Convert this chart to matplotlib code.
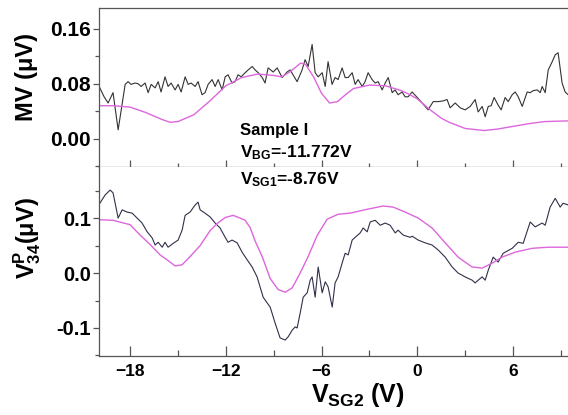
import matplotlib
matplotlib.use("Agg")
import matplotlib.pyplot as plt
from matplotlib.ticker import MultipleLocator

plt.rcParams['font.family'] = ['Liberation Sans', 'DejaVu Sans']
plt.rcParams['mathtext.fontset'] = 'custom'
plt.rcParams['mathtext.rm'] = 'Liberation Sans:bold'
plt.rcParams['mathtext.bf'] = 'Liberation Sans:bold'
plt.rcParams['mathtext.it'] = 'Liberation Sans:bold'

# ---------------- data ----------------
# Top panel: MV, measured (black)
mv_x = [-19.94, -19.63, -19.38, -19.07, -18.75, -18.31, -18.13, -17.94, -17.69, -17.50,
        -17.31, -17.06, -16.87, -16.68, -16.43, -16.24, -16.06, -15.81, -15.62, -15.43,
        -15.18, -14.99, -14.80, -14.55, -14.36, -14.18, -13.92, -13.74, -13.49, -13.30,
        -13.11, -12.86, -12.67, -12.48, -12.23, -12.04, -11.86, -11.61, -11.42, -11.23,
        -11.04, -10.79, -10.60, -10.35, -10.16, -9.97, -9.72, -9.54, -9.35, -9.03,
        -8.78, -8.47, -8.16, -7.97, -7.53, -7.22, -7.03, -6.84, -6.59, -6.40,
        -6.21, -5.96, -5.77, -5.59, -5.34, -5.15, -4.96, -4.71, -4.52, -4.33,
        -4.08, -3.89, -3.71, -3.45, -3.27, -3.08, -2.83, -2.64, -2.45, -2.20,
        -2.01, -1.82, -1.57, -1.39, -1.20, -0.95, -0.76, -0.57, -0.32, 0.00,
        0.31, 0.68, 1.00, 1.31, 1.62, 1.87, 2.06, 2.38, 2.69, 3.00,
        3.32, 3.63, 3.82, 4.07, 4.26, 4.45, 4.63, 4.82, 5.07, 5.26,
        5.51, 5.70, 5.95, 6.14, 6.33, 6.58, 6.89, 7.08, 7.27, 7.52,
        7.71, 7.83, 8.02, 8.21, 8.46, 8.65, 8.83, 9.08, 9.27, 9.46]
mv_y = [0.076, 0.061, 0.052, 0.067, 0.013, 0.079, 0.083, 0.079, 0.081, 0.080,
        0.076, 0.081, 0.067, 0.079, 0.074, 0.083, 0.068, 0.090, 0.076, 0.081,
        0.071, 0.079, 0.068, 0.090, 0.079, 0.081, 0.076, 0.083, 0.064, 0.067,
        0.079, 0.086, 0.076, 0.086, 0.071, 0.090, 0.093, 0.081, 0.083, 0.093,
        0.090, 0.096, 0.100, 0.105, 0.100, 0.096, 0.089, 0.081, 0.103, 0.097,
        0.103, 0.089, 0.097, 0.100, 0.083, 0.100, 0.115, 0.105, 0.137, 0.096,
        0.090, 0.096, 0.076, 0.112, 0.079, 0.089, 0.086, 0.103, 0.089, 0.089,
        0.096, 0.079, 0.086, 0.076, 0.083, 0.096, 0.086, 0.081, 0.083, 0.071,
        0.081, 0.089, 0.067, 0.071, 0.064, 0.068, 0.061, 0.061, 0.068, 0.060,
        0.052, 0.042, 0.054, 0.054, 0.055, 0.057, 0.045, 0.052, 0.045, 0.042,
        0.047, 0.057, 0.039, 0.047, 0.032, 0.047, 0.048, 0.060, 0.049, 0.042,
        0.060, 0.054, 0.064, 0.068, 0.061, 0.047, 0.068, 0.067, 0.070, 0.071,
        0.067, 0.076, 0.067, 0.100, 0.112, 0.122, 0.125, 0.081, 0.068, 0.064]

# Top panel: MV, calculated (magenta)
mvc_x = [-19.94, -19.0, -18.0, -17.0, -16.0, -15.5, -15.0, -14.0, -13.0, -12.0,
         -11.0, -10.0, -9.0, -8.5, -8.0, -7.3, -7.0, -6.5, -6.0, -5.5,
         -5.0, -4.5, -4.0, -3.0, -2.0, -1.0, -0.45, 0.0, 0.81, 1.5,
         2.0, 3.0, 4.2, 5.0, 6.0, 7.0, 8.0, 9.46]
mvc_y = [0.048, 0.048, 0.046, 0.038, 0.028, 0.024, 0.025, 0.035, 0.055, 0.077,
         0.089, 0.094, 0.092, 0.090, 0.097, 0.110, 0.108, 0.090, 0.066, 0.052,
         0.054, 0.064, 0.073, 0.078, 0.077, 0.070, 0.064, 0.058, 0.042, 0.030,
         0.024, 0.015, 0.012, 0.014, 0.018, 0.022, 0.025, 0.026]

# Bottom panel: V^P_34, measured (dark)
vp_x = [-19.94, -19.57, -19.25, -19.07, -18.75, -18.50, -18.19, -17.87, -17.56, -17.25,
        -16.93, -16.62, -16.43, -16.24, -15.99, -15.81, -15.62, -15.30, -14.99, -14.74,
        -14.55, -14.24, -13.92, -13.74, -13.61, -13.30, -12.98, -12.67, -12.36, -12.04,
        -11.86, -11.61, -11.29, -10.98, -10.66, -10.35, -10.04, -9.66, -9.22, -8.91,
        -8.60, -8.28, -8.09, -7.84, -7.65, -7.53, -7.34, -7.15, -6.90, -6.71,
        -6.59, -6.40, -6.21, -5.96, -5.77, -5.59, -5.33, -5.15, -4.96, -4.71,
        -4.52, -4.33, -4.08, -3.89, -3.58, -3.39, -3.14, -2.95, -2.64, -2.32,
        -2.01, -1.70, -1.38, -1.20, -0.88, -0.44, -0.32, 0.06, 0.49, 0.93,
        1.31, 1.75, 2.19, 2.56, 3.00, 3.44, 3.63, 3.82, 4.07, 4.26,
        4.45, 4.76, 5.07, 5.39, 5.95, 6.33, 6.64, 7.08, 7.39, 7.83,
        8.02, 8.33, 8.65, 8.96, 9.14, 9.46]
vp_y = [0.125, 0.142, 0.151, 0.146, 0.100, 0.115, 0.111, 0.109, 0.100, 0.091,
        0.075, 0.064, 0.051, 0.056, 0.047, 0.056, 0.047, 0.054, 0.060, 0.078,
        0.105, 0.111, 0.124, 0.129, 0.115, 0.109, 0.102, 0.091, 0.082, 0.065,
        0.056, 0.060, 0.055, 0.038, 0.024, 0.011, -0.007, -0.044, -0.062, -0.091,
        -0.118, -0.122, -0.116, -0.104, -0.098, -0.100, -0.073, -0.044, -0.036, -0.013,
        -0.007, -0.044, 0.011, -0.036, -0.016, -0.025, -0.062, -0.018, -0.007, 0.018,
        0.036, 0.033, 0.060, 0.065, 0.073, 0.082, 0.075, 0.093, 0.096, 0.087,
        0.091, 0.087, 0.073, 0.078, 0.069, 0.065, 0.067, 0.060, 0.055, 0.051,
        0.042, 0.029, 0.011, 0.000, -0.007, -0.013, -0.018, -0.013, -0.007, -0.013,
        0.005, 0.029, 0.020, 0.036, 0.045, 0.056, 0.054, 0.093, 0.084, 0.091,
        0.087, 0.120, 0.136, 0.120, 0.127, 0.124]

# Bottom panel: V^P_34, calculated (magenta)
vpc_x = [-19.88, -19.07, -18.00, -17.37, -16.75, -16.12, -15.68, -15.18, -14.74, -14.24,
         -13.61, -12.99, -12.55, -12.04, -11.54, -11.10, -10.79, -10.48, -10.16, -9.72,
         -9.22, -8.72, -8.28, -7.84, -7.34, -6.84, -6.28, -5.65, -4.96, -4.21,
         -3.14, -2.14, -1.51, -0.76, 0.06, 0.93, 1.75, 2.56, 3.44, 4.07,
         4.70, 5.32, 6.14, 7.20, 8.21, 9.46]
vpc_y = [0.097, 0.096, 0.088, 0.069, 0.052, 0.033, 0.024, 0.013, 0.015, 0.030,
         0.050, 0.077, 0.090, 0.101, 0.105, 0.100, 0.096, 0.083, 0.058, 0.030,
         -0.010, -0.030, -0.035, -0.027, 0.000, 0.030, 0.068, 0.098, 0.107, 0.109,
         0.116, 0.122, 0.120, 0.111, 0.100, 0.082, 0.055, 0.029, 0.011, 0.009,
         0.018, 0.029, 0.038, 0.045, 0.047, 0.047]

xticks = [-18, -12, -6, 0, 6]
top_yticks = [0.00, 0.08, 0.16]
bot_yticks = [-0.1, 0.0, 0.1]

# ---------------- figure ----------------
W, H = 568, 415
fig = plt.figure(figsize=(W / 100, H / 100), dpi=100)
L = 99 / W
ax1 = fig.add_axes([L, 1 - 167 / H, 1 - L, 159 / H])
ax2 = fig.add_axes([L, 1 - 356 / H, 1 - L, 189 / H], sharex=ax1)

spc = '#555555'
magenta = '#dd66dd'

ax1.plot(mv_x, mv_y, color='#333333', lw=0.8)
ax1.plot(mvc_x, mvc_y, color=magenta, lw=1.0)
ax2.plot(vp_x, vp_y, color='#30304a', lw=0.8)
ax2.plot(vpc_x, vpc_y, color=magenta, lw=1.0)

ax1.set_xlim(-19.95, 9.45)
ax1.set_ylim(-0.041, 0.19)
ax2.set_ylim(-0.151, 0.193)

for ax in (ax1, ax2):
    for s in ax.spines.values():
        s.set_color(spc)
        s.set_linewidth(0.9)
    ax.spines['right'].set_visible(False)
    ax.xaxis.set_major_locator(MultipleLocator(6))
    ax.xaxis.set_minor_locator(MultipleLocator(3))
    ax.set_xticks(xticks)
ax2.spines['top'].set_visible(False)

ax1.set_yticks(top_yticks)
ax1.yaxis.set_minor_locator(MultipleLocator(0.04))
ax1.set_yticklabels(['0.00', '0.08', '0.16'], fontsize=15, fontweight='bold')
ax2.set_yticks(bot_yticks)
ax2.yaxis.set_minor_locator(MultipleLocator(0.05))
ax2.set_yticklabels(['-0.1', '0.0', '0.1'], fontsize=14.5, fontweight='bold')

ax1.tick_params(axis='x', which='major', direction='inout', length=10, width=0.9,
                color=spc, labelbottom=False, top=False)
ax1.tick_params(axis='x', which='minor', direction='inout', length=6, width=0.9,
                color=spc, top=False)
ax2.tick_params(axis='x', which='major', direction='in', length=7, width=0.9,
                color=spc, labelsize=12.5, pad=6)
ax2.tick_params(axis='x', which='minor', direction='in', length=4, width=0.9, color=spc)
for ax in (ax1, ax2):
    ax.tick_params(axis='y', which='major', direction='out', length=4, width=0.9,
                   color=spc, pad=2, right=False)
    ax.tick_params(axis='y', which='minor', direction='out', length=3, width=0.9,
                   color=spc, right=False)
for lab in ax2.get_xticklabels():
    lab.set_fontweight('bold')

# axis labels
fig.text(27 / W, 1 - 77 / H, 'MV (μV)', rotation=90, ha='center', va='center',
         fontsize=17, fontweight='bold')
fig.text(27 / W, 1 - 238 / H, r'V$^{\mathrm{P}}_{\mathrm{34}}$(μV)', rotation=90,
         ha='center', va='center', fontsize=17, fontweight='bold')
fig.text(358 / W, 1 - 395 / H, r'V$_{\mathrm{SG2}}$ (V)', ha='center', va='center',
         fontsize=18, fontweight='bold')

# annotation
fig.text(240 / W, 1 - 135 / H, 'Sample I', ha='left', va='baseline',
         fontsize=12, fontweight='bold')
fig.text(240 / W, 1 - 157 / H, r'V$_{\mathrm{BG}}$=-11.772V', ha='left', va='baseline',
         fontsize=12.5, fontweight='bold')
fig.text(240 / W, 1 - 184 / H, r'V$_{\mathrm{SG1}}$=-8.76V', ha='left', va='baseline',
         fontsize=12.5, fontweight='bold')

fig.savefig('out.png', dpi=100)
